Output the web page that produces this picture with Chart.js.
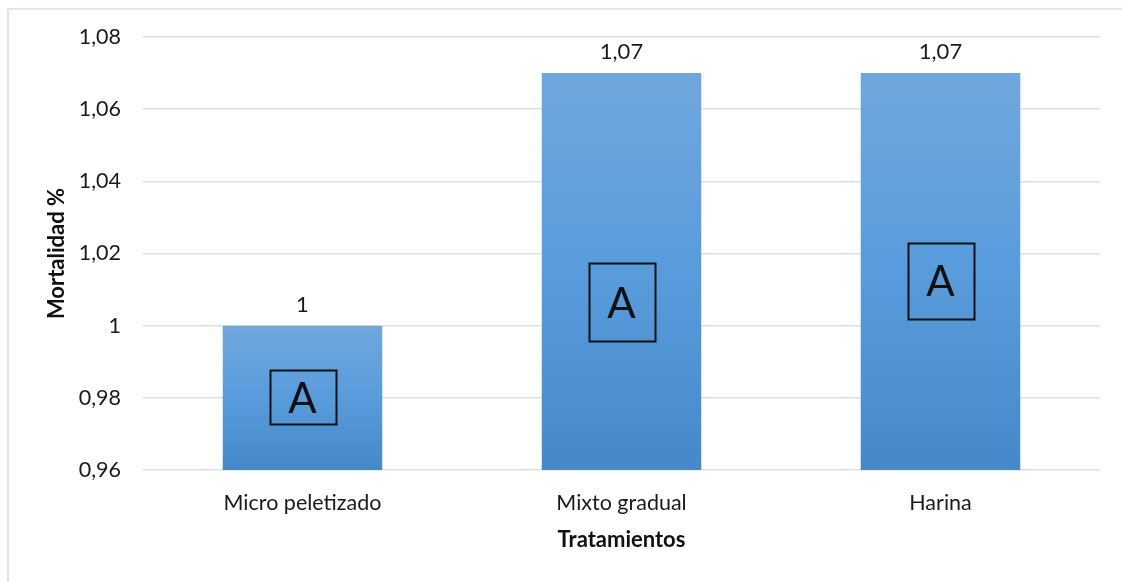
<!DOCTYPE html>
<html lang="es">
<head>
    <meta charset="UTF-8">
    <title>Mortalidad por tratamiento</title>
    <script src="https://cdn.jsdelivr.net/npm/chart.js"></script>
    <style>
        html, body { margin: 0; padding: 0; background: #fff; overflow: hidden; }
        .frame { position: absolute; left: 7px; top: 8px; width: 1200px; height: 700px;
                 border-left: 2px solid #e1e4e8; border-top: 2px solid #e1e4e8; }
        .wrap { position: absolute; left: 0; top: 0; width: 1122px; height: 582px; }
    </style>
</head>
<body>
    <div class="frame"></div>
    <div class="wrap"><canvas id="grafico"></canvas></div>
<script>
    // datos
    const tratamientos = ["Micro peletizado", "Mixto gradual", "Harina"];
    const mortalidad = [1, 1.07, 1.07];
    const letras = ["A", "A", "A"];
    // centro de cada recuadro de letra, en unidades del eje y
    const centroLetra = [0.9802, 1.0065, 1.0124];
    const yMin = 0.96, yMax = 1.08, yPaso = 0.02;

    const fuente = "Lato, 'Open Sans', sans-serif";
    const coma = v => String(Math.round(v * 100) / 100).replace(".", ",");

    function degradado(ctx) {
        const chart = ctx.chart;
        const ys = chart.scales && chart.scales.y;
        if (!chart.chartArea || !ys || ctx.dataIndex === undefined) return "#5b9bd5";
        const top = ys.getPixelForValue(mortalidad[ctx.dataIndex]);
        const bot = ys.getPixelForValue(yMin);
        if (!isFinite(top) || !isFinite(bot)) return "#5b9bd5";
        const g = chart.ctx.createLinearGradient(0, top, 0, bot);
        g.addColorStop(0, "#70a7dd");
        g.addColorStop(0.5, "#589cdc");
        g.addColorStop(1, "#4589c8");
        return g;
    }

    // etiquetas de valor y recuadros con letra
    const extras = {
        id: "extras",
        afterDatasetsDraw(chart) {
            const c = chart.ctx;
            const meta = chart.getDatasetMeta(0);
            const ys = chart.scales.y;
            const altos = [54, 78, 76];
            c.save();
            meta.data.forEach((bar, i) => {
                c.fillStyle = "#1a1a1a";
                c.font = "22px " + fuente;
                c.textAlign = "center";
                c.textBaseline = "bottom";
                c.fillText(coma(mortalidad[i]), bar.x, bar.y - 10);

                const cy = ys.getPixelForValue(centroLetra[i]);
                const w = 66, h = altos[i];
                c.strokeStyle = "#111";
                c.lineWidth = 2;
                c.strokeRect(Math.round(bar.x - w / 2) + 0.5, Math.round(cy - h / 2) + 0.5, w, h);
                c.font = "42px " + fuente;
                c.textBaseline = "middle";
                c.fillStyle = "#111";
                c.fillText(letras[i], bar.x, cy + 2);
            });
            c.restore();
        }
    };

    new Chart(document.getElementById("grafico"), {
        type: "bar",
        data: {
            labels: tratamientos,
            datasets: [{
                data: mortalidad,
                backgroundColor: degradado,
                borderWidth: 0,
                categoryPercentage: 1,
                barPercentage: 0.5
            }]
        },
        options: {
            responsive: true,
            maintainAspectRatio: false,
            animation: false,
            layout: { padding: { left: 42, right: 22, top: 37, bottom: 25 } },
            plugins: { legend: { display: false }, tooltip: { enabled: false } },
            scales: {
                x: {
                    grid: { display: false, drawTicks: false },
                    border: { display: false },
                    ticks: { color: "#1a1a1a", font: { family: fuente, size: 21.5 }, padding: 20 },
                    title: { display: true, text: "Tratamientos", color: "#111",
                             font: { family: fuente, size: 22, weight: "bold" }, padding: { top: 4, bottom: 4 } },
                    afterFit(s) { s.height = 87; }
                },
                y: {
                    min: yMin, max: yMax,
                    ticks: { stepSize: yPaso, color: "#1a1a1a", font: { family: fuente, size: 21.5 },
                             padding: 22, callback: v => coma(v) },
                    grid: { color: "#dde0e4", lineWidth: 1.5, drawTicks: false },
                    border: { display: false },
                    title: { display: true, text: "Mortalidad %", color: "#111",
                             font: { family: fuente, size: 22, weight: "bold" }, padding: { top: 2, bottom: 2 } },
                    afterFit(s) { s.width = 101; }
                }
            }
        },
        plugins: [extras]
    });
</script>
</body>
</html>
